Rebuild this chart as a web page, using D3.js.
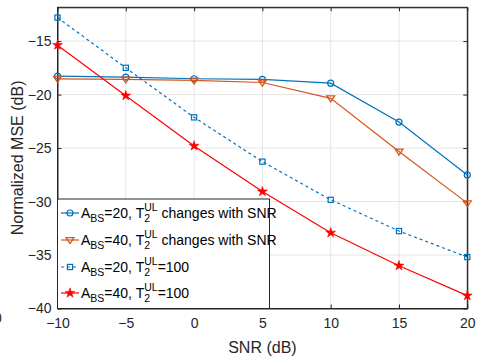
<!DOCTYPE html>
<html><head><meta charset="utf-8">
<script src="https://cdn.jsdelivr.net/npm/d3@7"></script>
<style>body{margin:0;background:#fff}svg{display:block}text{font-family:"Liberation Sans",Arial,sans-serif;white-space:pre}</style>
</head><body>
<svg id="c" width="478" height="358"></svg>
<script>
const snr = [-10, -5, 0, 5, 10, 15, 20];
const xTicks = [-10, -5, 0, 5, 10, 15, 20];
const yTicks = [-40, -35, -30, -25, -20, -15];
const s1 = [-18.27, -18.37, -18.52, -18.58, -18.93, -22.57, -27.51];
const s2 = [-18.53, -18.58, -18.68, -18.87, -20.35, -25.33, -30.15];
const s3 = [-12.8, -17.5, -22.13, -26.27, -29.84, -32.76, -35.19];
const s4 = [-15.38, -20.1, -24.8, -29.07, -32.92, -36.0, -38.8];
const legendA = ["20", "40", "20", "40"];
const legendTail = [" changes with SNR", " changes with SNR", "=100", "=100"];

const series = [
  {v: s1, color: "#0072BD", dash: null, marker: "circle"},
  {v: s2, color: "#D95319", dash: null, marker: "tri"},
  {v: s3, color: "#0072BD", dash: "3,3", marker: "square"},
  {v: s4, color: "#FF0000", dash: null, marker: "star"}
];

const L = 57.5, R = 467.3, T = 7.3, B = 308.5;
const x = d3.scaleLinear().domain([-10, 20]).range([L, R]);
const y = d3.scaleLinear().domain([-40, -11.84]).range([B, T]);
const svg = d3.select("#c");

// grid
svg.append("g").selectAll("line").data(xTicks).join("line")
  .attr("x1", d => x(d)).attr("x2", d => x(d)).attr("y1", T).attr("y2", B)
  .attr("stroke", "#e5e5e5").attr("stroke-width", 1);
svg.append("g").selectAll("line").data(yTicks).join("line")
  .attr("y1", d => y(d)).attr("y2", d => y(d)).attr("x1", L).attr("x2", R)
  .attr("stroke", "#e5e5e5").attr("stroke-width", 1);

// axes
const ax = svg.append("g");
const xb = ax.append("g").attr("transform", `translate(0,${B})`)
  .call(d3.axisBottom(x).tickValues(xTicks).tickSizeInner(-4).tickSizeOuter(0).tickPadding(10));
const xt = ax.append("g").attr("transform", `translate(0,${T})`)
  .call(d3.axisTop(x).tickValues(xTicks).tickSizeInner(-4).tickSizeOuter(0).tickFormat(""));
const yl = ax.append("g").attr("transform", `translate(${L},0)`)
  .call(d3.axisLeft(y).tickValues(yTicks).tickSizeInner(-4).tickSizeOuter(0).tickPadding(6));
const yr = ax.append("g").attr("transform", `translate(${R},0)`)
  .call(d3.axisRight(y).tickValues(yTicks).tickSizeInner(-4).tickSizeOuter(0).tickFormat(""));
ax.selectAll(".domain").attr("stroke", "#262626").attr("stroke-width", 1);
ax.selectAll(".tick line").attr("stroke", "#262626");
ax.selectAll(".tick text").attr("fill", "#262626").attr("font-size", 14)
  .attr("font-family", "Liberation Sans, Arial, sans-serif");
svg.append("rect").attr("x", L).attr("y", T).attr("width", R - L).attr("height", B - T)
  .attr("fill", "none").attr("stroke", "#262626").attr("stroke-width", 1);

// axis labels
svg.append("text").attr("x", (L + R) / 2).attr("y", 353).attr("text-anchor", "middle")
  .attr("font-size", 16).attr("fill", "#262626").text("SNR (dB)");
svg.append("text").attr("transform", `translate(23,${(T + B) / 2}) rotate(-90)`)
  .attr("text-anchor", "middle").attr("font-size", 16).attr("fill", "#262626").text("Normalized MSE (dB)");
svg.append("text").attr("x", -6).attr("y", 323).attr("font-size", 14).attr("fill", "#262626").text("0");

// markers
function drawMarker(g, type, cx, cy, color) {
  if (type === "circle") {
    g.append("circle").attr("cx", cx).attr("cy", cy).attr("r", 3)
      .attr("fill", "none").attr("stroke", color).attr("stroke-width", 1.2);
  } else if (type === "tri") {
    const s = 4;
    g.append("path").attr("d", `M${cx - s},${cy - s * 0.6}L${cx + s},${cy - s * 0.6}L${cx},${cy + s * 0.9}Z`)
      .attr("fill", "none").attr("stroke", color).attr("stroke-width", 1.2);
  } else if (type === "square") {
    g.append("rect").attr("x", cx - 2.6).attr("y", cy - 2.6).attr("width", 5.2).attr("height", 5.2)
      .attr("fill", "none").attr("stroke", color).attr("stroke-width", 1.2);
  } else if (type === "star") {
    g.append("path").attr("d", d3.symbol(d3.symbolStar, 30)()).attr("transform", `translate(${cx},${cy})`)
      .attr("fill", color).attr("stroke", color).attr("stroke-width", 0.6);
  }
}

const line = d3.line().x((d, i) => x(snr[i])).y(d => y(d));
series.forEach(s => {
  svg.append("path").datum(s.v).attr("d", line).attr("fill", "none")
    .attr("stroke", s.color).attr("stroke-width", 1.2)
    .attr("stroke-dasharray", s.dash);
  const g = svg.append("g");
  s.v.forEach((v, i) => drawMarker(g, s.marker, x(snr[i]), y(v), s.color));
});

// legend
const lg = svg.append("g");
lg.append("rect").attr("x", L).attr("y", 199).attr("width", 212).attr("height", B - 199)
  .attr("fill", "#fff").attr("stroke", "#262626").attr("stroke-width", 1);
const rowY = [213, 240, 267, 293];
series.forEach((s, i) => {
  const yy = rowY[i];
  lg.append("line").attr("x1", 61).attr("x2", 79).attr("y1", yy).attr("y2", yy)
    .attr("stroke", s.color).attr("stroke-width", 1.2).attr("stroke-dasharray", s.dash);
  drawMarker(lg, s.marker, 70, yy, s.color);
  const fs = 14, sfs = 10.5;
  let cx = 81;
  const base = yy + 5;
  function put(txt, size, dy) {
    const t = lg.append("text").attr("x", cx).attr("y", base + dy).attr("font-size", size)
      .attr("fill", "#000").text(txt);
    return t.node().getComputedTextLength();
  }
  cx += put("A", fs, 0);
  cx += put("BS", sfs, 4);
  cx += put("=" + legendA[i] + ", T", fs, 0);
  const w1 = put("UL", sfs, -7);
  const w2 = put("2", sfs, 4);
  cx += Math.max(w1, w2);
  put(legendTail[i], fs, 0);
});
</script>
</body></html>
